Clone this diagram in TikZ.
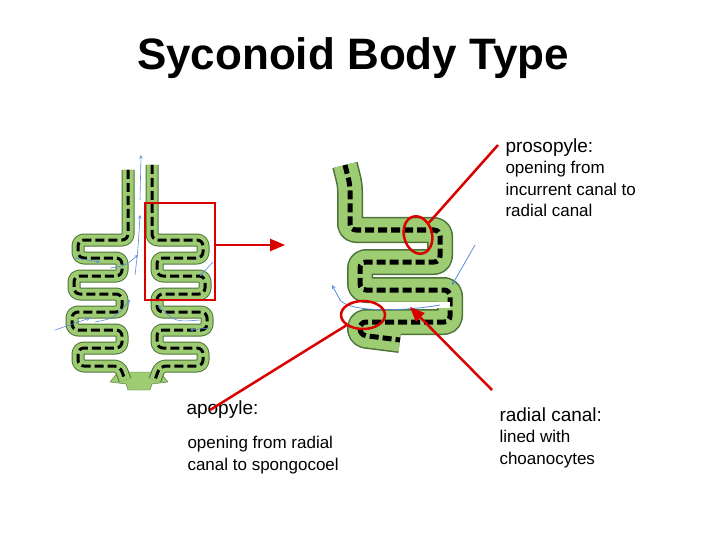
\documentclass[tikz,border=0pt]{standalone}
\usepackage{fontspec}
\setmainfont{Liberation Sans}
\usetikzlibrary{arrows,shapes,positioning}
\definecolor{wallGreen}{rgb}{0.62,0.80,0.45}
\definecolor{wallEdge}{rgb}{0.30,0.45,0.22}
\definecolor{flowBlue}{rgb}{0.35,0.55,0.85}
\tikzstyle{wall_edge}=[draw=wallEdge, rounded corners=6pt, line join=round]
\tikzstyle{wall_fill}=[draw=wallGreen, rounded corners=6pt, line join=round]
\tikzstyle{wall_core}=[draw=black, dash pattern=on 9pt off 4pt, rounded corners=6pt]
\tikzstyle{pointer}=[draw=red!85!black, line width=2.5pt]
\tikzstyle{flow}=[->, >=stealth, flowBlue, semithick]
\tikzstyle{label_head}=[anchor=west, font=\fontsize{19}{22}\selectfont]
\tikzstyle{label_text}=[anchor=north west, align=left, font=\fontsize{17}{21.5}\selectfont]
\newcommand{\meander}[3]{% #1 width, #2 style, #3 path
  \draw[#2, line width=#1] #3;}
\begin{document}
\begin{tikzpicture}[x=1pt, y=-1pt]
		\useasboundingbox (0,0) rectangle (720,540);

		\node[font=\fontsize{44}{50}\selectfont\bfseries] (title) at (353,58) {Syconoid Body Type};

		% small sponge, both walls
		\def\rightwall{(152,165) -- (152,240) -- (203,240) -- (203,258) -- (157,258) -- (157,276) -- (205,276) -- (205,294) -- (157,294) -- (157,312) -- (207,312) -- (207,330) -- (157,330) -- (157,348) -- (203,348) -- (203,366) -- (160,366) -- (155,380)}
		\def\leftwall{(128,170) -- (128,240) -- (78,240) -- (78,258) -- (122,258) -- (122,276) -- (74,276) -- (74,294) -- (122,294) -- (122,312) -- (72,312) -- (72,330) -- (122,330) -- (122,348) -- (78,348) -- (78,366) -- (120,366) -- (125,380)}
		\fill[wallGreen, draw=wallEdge] (118,372) -- (160,372) -- (168,382) -- (152,384) -- (150,390) -- (128,390) -- (126,384) -- (110,382) -- cycle;
		\foreach \w in {\rightwall, \leftwall} {
			\meander{13pt}{wall_edge}{\w}
			\meander{11pt}{wall_fill}{\w}
			\meander{3pt}{wall_core}{\w}
		}

		% enlarged wall
		\def\bigwall{(345,165) -- (350,185) -- (350,230) -- (440,230) -- (440,262) -- (360,262) -- (360,290) -- (450,290) -- (450,322) -- (360,322) -- (360,335) -- (400,340)}
		\meander{26pt}{wall_edge}{\bigwall}
		\meander{23pt}{wall_fill}{\bigwall}
		\meander{5pt}{wall_core}{\bigwall}
		\draw[white, line width=6pt] (370,305) -- (450,305);
		\draw[flowBlue, thick] (440,305) .. controls (400,312) and (350,312) .. (340,300);
		\draw[flowBlue, thick, ->, >=stealth] (340,300) -- (332,285);
		\draw[flowBlue, thick, ->, >=stealth] (475,245) -- (452,285);

		% water flow in small sponge
		\draw[flow] (140,200) -- (141,155);
		\draw[flow] (135,275) .. controls (138,250) .. (140,215);
		\draw[flow] (55,330) -- (90,318);
		\draw[flow] (95,322) .. controls (115,318) .. (130,300);
		\draw[flow] (200,320) .. controls (175,322) .. (158,305);
		\draw[flow] (213,262) -- (200,276);
		\draw[flow] (210,328) -- (190,330);
		\draw[flow] (75,258) -- (100,262);
		\draw[flow] (110,268) .. controls (125,266) .. (138,255);

		% pointers
		\draw[pointer] (145,203) rectangle (215,300);
		\coordinate (arrowstart) at (215,245);
		\coordinate (arrowend) at (285,245);
		\draw[pointer, -triangle 45] (arrowstart) -- (arrowend);
		\node[pointer, ellipse, minimum width=28pt, minimum height=38pt, rotate=15] (prosopyle) at (418,235) {};
		\node[pointer, ellipse, minimum width=44pt, minimum height=28pt] (apopyle) at (363,315) {};

		\node[label_head] (prosohead) at (502,148) {prosopyle:};
		\node[label_text] (prosotext) at (502,158) {opening from\\incurrent canal to\\radial canal};
		\node[label_head] (apohead) at (183,410) {apopyle:};
		\node[label_text] (apotext) at (184,433) {opening from radial\\canal to spongocoel};
		\node[label_head] (radialhead) at (496,415) {radial canal:};
		\node[label_text] (radialtext) at (496,427) {lined with\\choanocytes};

		\coordinate (prosoend) at (498,145);
		\coordinate (apoend) at (210,410);
		\coordinate (radialend) at (492,390);
		\coordinate (radialtip) at (410,307);
		\draw[pointer] (prosoend) -- (prosopyle);
		\draw[pointer] (apoend) -- (apopyle);
		\draw[pointer, -triangle 45] (radialend) -- (radialtip);
	\end{tikzpicture}
\end{document}
